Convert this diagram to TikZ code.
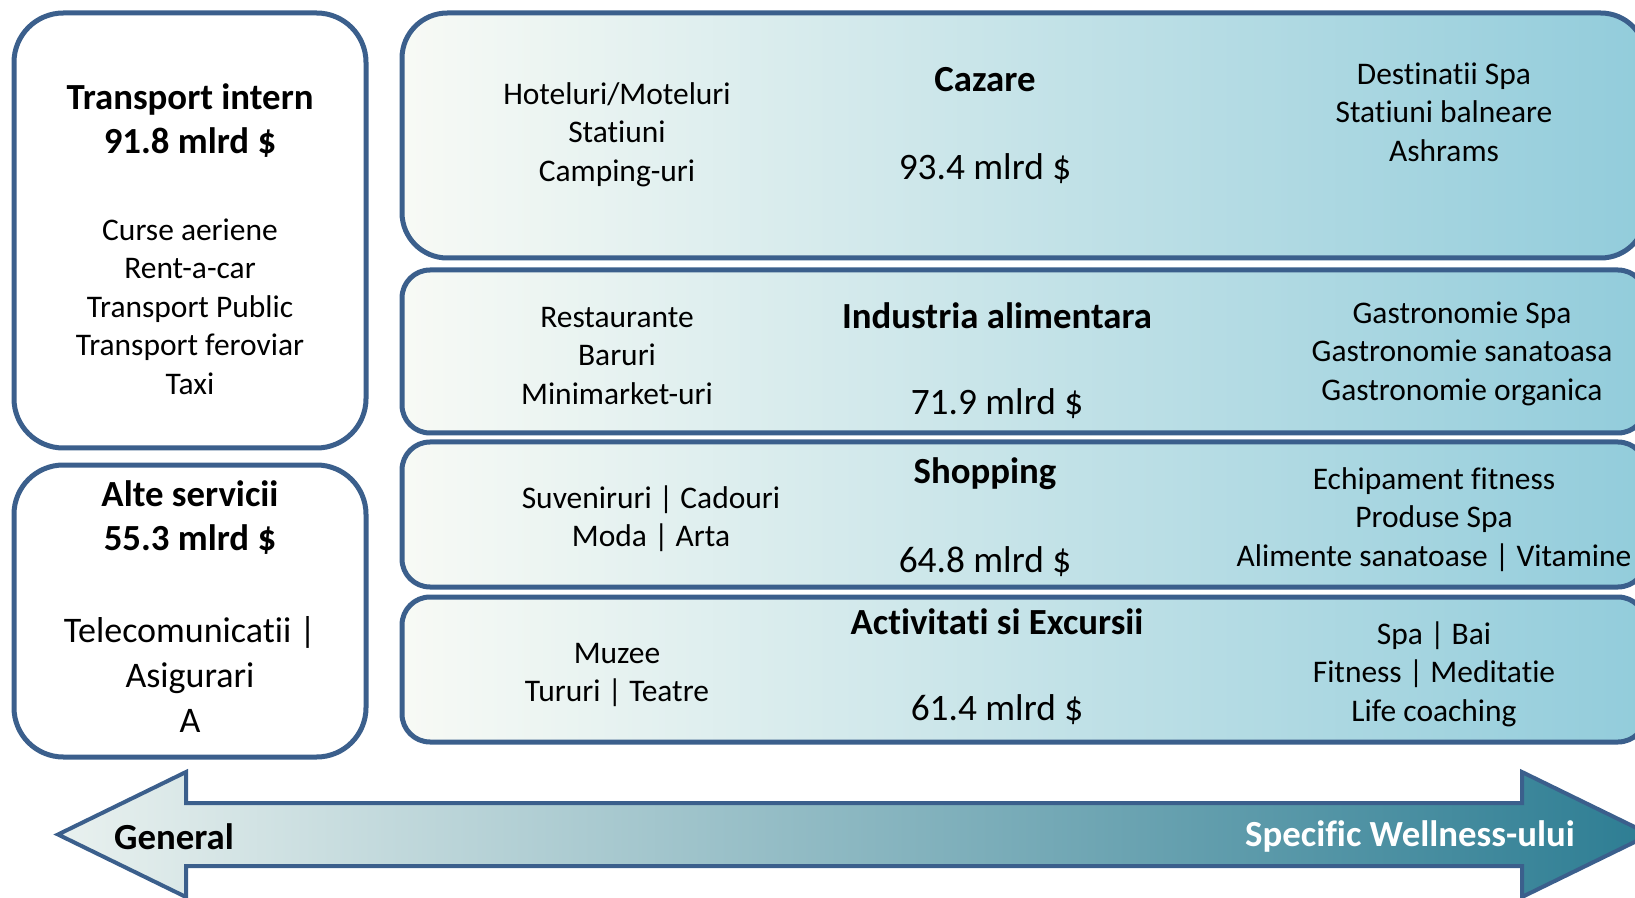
\documentclass[tikz,border=0pt]{standalone}
\usepackage{fontspec}
\setmainfont{Carlito}[Ligatures=CommonOff]
\definecolor{boxline}{RGB}{59,95,140}
\definecolor{boxleft}{RGB}{248,250,245}
\definecolor{boxmid}{RGB}{208,231,230}
\definecolor{boxright}{RGB}{146,204,219}
\definecolor{arrowleft}{RGB}{233,241,239}
\definecolor{arrowright}{RGB}{45,125,147}
\tikzset{
  frame/.style={draw=boxline, line width=3.75pt},
  band/.style={frame, left color=boxleft, middle color=boxmid, right color=boxright},
  listtxt/.style={align=center, font=\fontsize{23.6}{28.9}\selectfont},
  bigtxt/.style={align=center, font=\fontsize{27}{33.4}\selectfont},
  headtxt/.style={align=center, font=\fontsize{27.6}{33}\selectfont\bfseries},
  sumtxt/.style={font=\fontsize{28}{33}\selectfont}
}
\begin{document}
\begin{tikzpicture}[x=0.75pt,y=0.75pt,yscale=-1,xscale=1]
\useasboundingbox (0,0) rectangle (1635,898);
\clip (0,0) rectangle (1635,898);
%Shape: Rounded Rect [id:left boxes]
\draw [frame, fill=white, rounded corners=37pt] (14,13) rectangle (366,448);
\draw [frame, fill=white, rounded corners=37pt] (14,465) rectangle (366,757);
%Shape: Rounded Rect [id:right bands]
\draw [band, rounded corners=34pt] (402,13) rectangle (1646,258);
\draw [band, rounded corners=21pt] (402,270) rectangle (1646,433);
\draw [band, rounded corners=21pt] (402,442) rectangle (1646,587);
\draw [band, rounded corners=21pt] (402,597) rectangle (1646,742);
%Shape: Double Arrow [id:scale arrow]
\draw [draw=boxline, line width=3pt, left color=arrowleft, right color=arrowright]
  (58,834.5) -- (186,772) -- (186,803) -- (1522,803) -- (1522,772) -- (1650,834.5)
  -- (1522,897) -- (1522,866) -- (186,866) -- (186,897) -- cycle ;
% Text Node
\node [headtxt] (transT) at (190,121) {Transport intern\\91.8 mlrd \$};
\node [listtxt] (transL) at (190,306.5) {Curse aeriene\\Rent-a-car\\Transport Public\\Transport feroviar\\Taxi};
\node [headtxt] (alteT) at (190,518) {Alte servicii\\55.3 mlrd \$};
\node [bigtxt] (alteL) at (190,674.5) {Telecomunicatii |\\Asigurari\\A};
% Text Node
\node [listtxt] (cazL) at (617,134.5) {Hoteluri/Moteluri\\Statiuni\\Camping-uri};
\node [headtxt] (cazT) at (985,80) {Cazare};
\node [sumtxt] (cazS) at (985,169) {93.4 mlrd \$};
\node [listtxt] (cazR) at (1444,112) {Destinatii Spa\\Statiuni balneare\\Ashrams};
% Text Node
\node [listtxt] (aliL) at (617,356) {Restaurante\\Baruri\\Minimarket-uri};
\node [headtxt] (aliT) at (997,316) {Industria alimentara};
\node [sumtxt] (aliS) at (997,403.5) {71.9 mlrd \$};
\node [listtxt] (aliR) at (1462,353.5) {Gastronomie Spa\\Gastronomie sanatoasa\\Gastronomie organica};
% Text Node
\node [listtxt] (shoL) at (651,518.5) {Suveniruri | Cadouri\\Moda | Arta};
\node [headtxt] (shoT) at (985,474) {Shopping};
\node [sumtxt] (shoS) at (985,562) {64.8 mlrd \$};
\node [listtxt] (shoR) at (1434,519.5) {Echipament fitness\\Produse Spa\\Alimente sanatoase | Vitamine};
% Text Node
\node [listtxt] (actL) at (617,675) {Muzee\\Tururi | Teatre};
\node [headtxt] (actT) at (997,622) {Activitati si Excursii};
\node [sumtxt] (actS) at (997,710) {61.4 mlrd \$};
\node [listtxt] (actR) at (1434,674) {Spa | Bai\\Fitness | Meditatie\\Life coaching};
% Text Node
\node [headtxt] (gen) at (174,836.5) {General};
\node [headtxt, text=white] (spec) at (1410,836.5) {Specific Wellness-ului};
\end{tikzpicture}
\end{document}
